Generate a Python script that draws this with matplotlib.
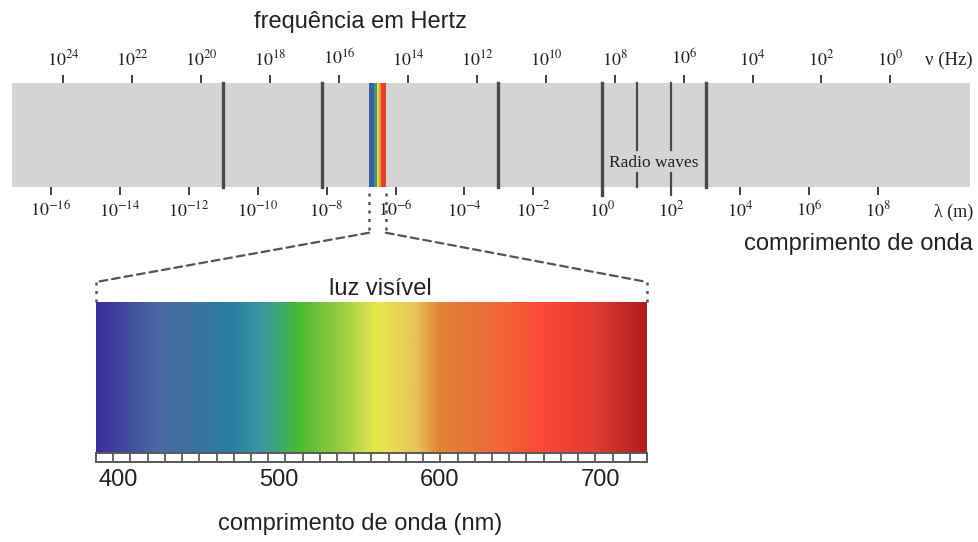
import numpy as np
import matplotlib
matplotlib.use("Agg")
import matplotlib.pyplot as plt
from matplotlib.colors import LinearSegmentedColormap
from matplotlib.patches import Rectangle, ConnectionPatch

plt.rcParams['mathtext.fontset'] = 'stix'
plt.rcParams['font.family'] = ['Liberation Sans', 'DejaVu Sans']

# ---------------- data ----------------
wl_exponents = [-16, -14, -12, -10, -8, -6, -4, -2, 0, 2, 4, 6, 8]
freq_exponents = [24, 22, 20, 18, 16, 14, 12, 10, 8, 6, 4, 2, 0]
freq_offset = 8.36                      # log10(nu) = offset - log10(lambda), as drawn
region_bounds = [-11.0, -8.14, -3.02, 0.0, 1.0, 2.0, 3.02]
visible_band_edges = [-6.77, -6.63, -6.54, -6.48, -6.42, -6.28]
visible_band_colors = ['#3c5ea6', '#3a9a74', '#e0dc44', '#f0962e', '#e4402e']
spectrum_nm = [386, 423, 471, 490, 500, 511, 538, 561, 585, 600, 637, 661, 697, 729]
spectrum_colors = ['#3b2e9c', '#4a68a0', '#2a7ea0', '#3a9aa0', '#3aa870', '#48b832',
                   '#98cc40', '#e8e84c', '#e8c45a', '#e08434', '#f06838', '#ff4a38',
                   '#e03c30', '#b01c1c']
nm_ticks = [400, 500, 600, 700]

W, H = 979, 542
fig = plt.figure(figsize=(W / 100, H / 100), dpi=100)
fig.patch.set_facecolor('white')


def fbox(x0, y0, x1, y1):
    return [x0 / W, 1 - y1 / H, (x1 - x0) / W, (y1 - y0) / H]


# ---------------- main EM spectrum bar ----------------
ax = fig.add_axes(fbox(12, 83, 970, 187))
ax.set_facecolor('#d4d4d4')
ax.set_xlim(-17.13, 10.67)
ax.set_ylim(0, 1)
for s in ax.spines.values():
    s.set_visible(False)
ax.set_yticks([])
ax.set_xticks(wl_exponents, labels=[rf'$10^{{{e}}}$' for e in wl_exponents])
ax.tick_params(axis='x', direction='out', length=6, width=1.3, color='#333333',
               pad=4, labelsize=13, labelcolor='#222222')

sec = ax.secondary_xaxis('top', functions=(lambda x: freq_offset - x,
                                            lambda x: freq_offset - x))
sec.set_xticks(freq_exponents, labels=[rf'$10^{{{e}}}$' for e in freq_exponents])
sec.tick_params(axis='x', direction='out', length=6, width=1.3, color='#333333',
                pad=4, labelsize=13, labelcolor='#222222')
for s in sec.spines.values():
    s.set_visible(False)

xt = ax.get_xaxis_transform()
line_col = '#4a4a4a'
for b in region_bounds:
    if b in (1.0, 2.0):
        bot = -0.08 if b == 2.0 else 0.0
        ax.plot([b, b], [0.356, 1.0], color=line_col, lw=1.6, transform=xt, clip_on=False)
        ax.plot([b, b], [bot, 0.135], color=line_col, lw=1.6, transform=xt, clip_on=False)
    else:
        bot = -0.08 if b == 0.0 else 0.0
        ax.plot([b, b], [bot, 1.0], color=line_col, lw=2.4, transform=xt, clip_on=False)

for i, c in enumerate(visible_band_colors):
    ax.axvspan(visible_band_edges[i], visible_band_edges[i + 1], color=c, lw=0)

ax.text(1.5, 0.23, 'Radio waves', transform=xt, ha='center',
        va='center', fontsize=12.5, family='Liberation Serif', color='#222222')

# ---------------- visible light spectrum ----------------
vax = fig.add_axes(fbox(96, 302, 647, 462))
vmin, vmax = spectrum_nm[0], spectrum_nm[-1]
stops = [(v - vmin) / (vmax - vmin) for v in spectrum_nm]
cmap = LinearSegmentedColormap.from_list('vis', list(zip(stops, spectrum_colors)))
grad = np.linspace(vmin, vmax, 800)[None, :]
vax.imshow(grad, extent=(vmin, vmax, 0, 1), aspect='auto', cmap=cmap,
           vmin=vmin, vmax=vmax, interpolation='bilinear')
vax.set_xlim(vmin, vmax)
vax.set_ylim(-0.06, 1)
for s in vax.spines.values():
    s.set_visible(False)
vax.set_yticks([])
vax.set_xticks(nm_ticks, labels=[str(t) for t in nm_ticks])
vax.tick_params(axis='x', length=0, pad=5, labelsize=17, labelcolor='#222222')

vax.add_patch(Rectangle((vmin, -0.06), vmax - vmin, 0.06, facecolor='white',
                        edgecolor='#5a5a5a', lw=1.4, clip_on=False, zorder=3))
ruler = np.linspace(vmin, vmax, 33)[1:-1]
vax.vlines(ruler, -0.06, 0, color='#5a5a5a', lw=1.3, zorder=4, clip_on=False)

# ---------------- connectors (zoom lines) ----------------
dash_kw = dict(color='#555555', lw=1.6, linestyle=(0, (3.5, 2.2)))
dot_kw = dict(color='#555555', lw=1.8, linestyle=(0, (1.2, 2.2)))
for xe in (visible_band_edges[0], visible_band_edges[-1]):
    ax.plot([xe, xe], [-0.055, -0.44], transform=xt, clip_on=False, **dot_kw)
for xe, xv in ((visible_band_edges[0], vmin), (visible_band_edges[-1], vmax)):
    con = ConnectionPatch(xyA=(xe, -0.44), coordsA=xt,
                          xyB=(xv, 1.125), coordsB=vax.get_xaxis_transform(), **dash_kw)
    fig.add_artist(con)
    vax.plot([xv, xv], [1.125, 1.0], transform=vax.get_xaxis_transform(),
             clip_on=False, **dot_kw)

# ---------------- texts ----------------
def ftext(x, y, s, **kw):
    fig.text(x / W, 1 - y / H, s, **kw)

ftext(360, 22, 'frequência em Hertz', ha='center', va='center', fontsize=17, color='#222222')
ftext(973, 244, 'comprimento de onda', ha='right', va='center', fontsize=17, color='#222222')
ftext(380, 289, 'luz visível', ha='center', va='center', fontsize=17, color='#222222')
ftext(360, 524, 'comprimento de onda (nm)', ha='center', va='center', fontsize=17,
      color='#222222')
ftext(973, 60, r'ν (Hz)', ha='right', va='center', fontsize=13.5,
      family='Liberation Serif', color='#222222')
ftext(973, 212, r'λ (m)', ha='right', va='center', fontsize=13,
      family='Liberation Serif', color='#222222')

fig.savefig('out.png', dpi=100, facecolor='white')
